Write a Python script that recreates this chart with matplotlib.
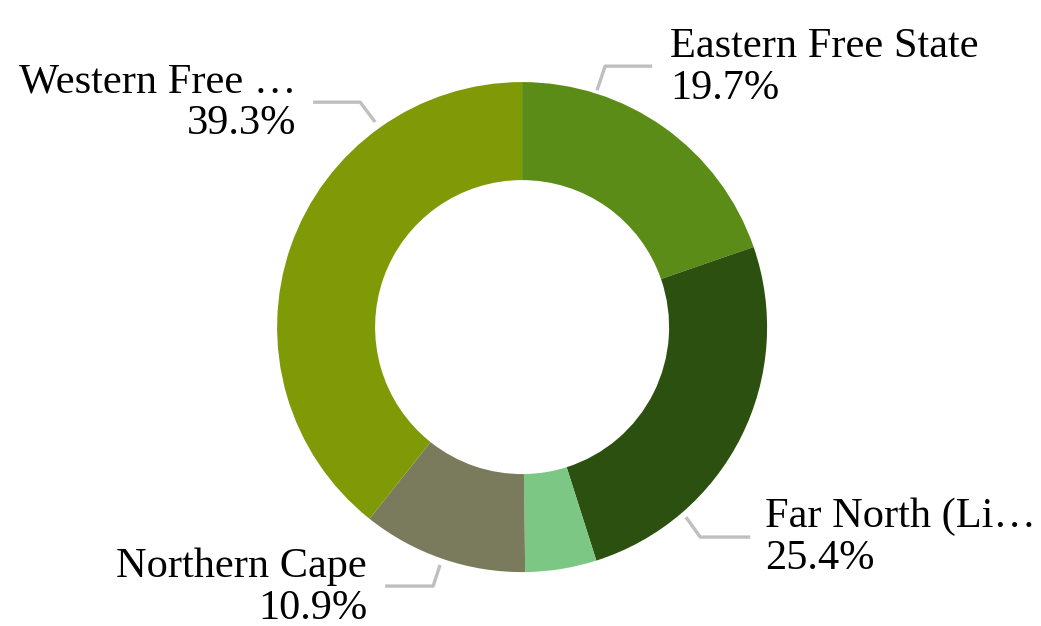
import matplotlib
matplotlib.use("Agg")
from matplotlib import pyplot as plt

regions = ["Eastern Free State", "Far North (Li…", "Other", "Northern Cape", "Western Free …"]
shares = [19.7, 25.4, 4.7, 10.9, 39.3]
colors = ["#5B8C17", "#2B500F", "#7CC784", "#7A7A5C", "#809906"]

plt.rcParams['font.family'] = ['Liberation Serif', 'DejaVu Serif']

fig = plt.figure(figsize=(10.41, 6.26), dpi=100)
ax = fig.add_axes([0, 0, 1, 1])
ax.pie(shares, colors=colors, startangle=90, counterclock=False, radius=1.0,
       wedgeprops=dict(width=0.4, linewidth=0))
ax.set_xlim(-2.131, 2.118)
ax.set_ylim(-1.220, 1.335)
ax.set_aspect('auto')
ax.axis('off')

# label placement: (text x, text y, ha, leader points)
layout = {
    "Eastern Free State": (0.604, 1.057, 'left',
                           [(0.306, 0.967), (0.339, 1.065), (0.531, 1.065)]),
    "Far North (Li…": (0.992, -0.861, 'left',
                       [(0.669, -0.776), (0.727, -0.857), (0.931, -0.857)]),
    "Northern Cape": (-0.633, -1.065, 'right',
                      [(-0.335, -0.971), (-0.363, -1.057), (-0.559, -1.057)]),
    "Western Free …": (-0.922, 0.915, 'right',
                       [(-0.600, 0.837), (-0.661, 0.918), (-0.853, 0.918)]),
}

for name, val in zip(regions, shares):
    if name not in layout:
        continue
    tx, ty, ha, pts = layout[name]
    xs = [p[0] for p in pts]
    ys = [p[1] for p in pts]
    ax.plot(xs, ys, color='#BFBFBF', lw=2.4, solid_capstyle='butt')
    ax.text(tx, ty, f"{name}\n{val:.1f}%", ha=ha, va='center', fontsize=30.5,
            linespacing=1.12, color='black', multialignment=ha)

fig.savefig("out.png", dpi=100)
